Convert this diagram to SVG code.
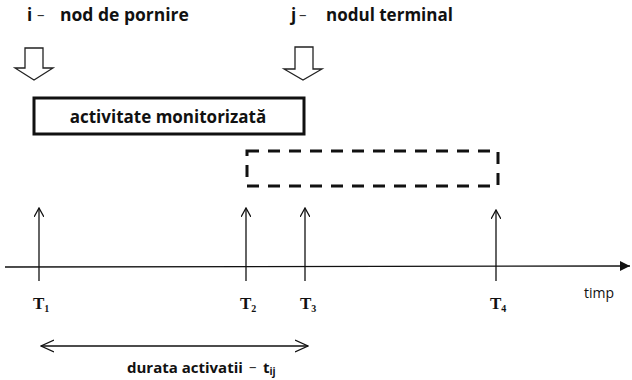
<svg xmlns="http://www.w3.org/2000/svg" width="632" height="380" viewBox="0 0 632 380">
<style>
.lbl{font-family:"Open Sans","Liberation Sans",sans-serif;font-weight:bold;font-size:17px;fill:#111}
.t{font-family:"Liberation Serif","Times New Roman",serif;font-weight:bold;font-size:17px;fill:#111}
.sub{font-size:10px}
.ln{stroke:#111;fill:none;stroke-width:1.3}
.hollow{fill:#fff;stroke:#222;stroke-width:1.3}
</style>
<defs>
<marker id="open" viewBox="0 0 10 10" refX="9" refY="5" markerWidth="10" markerHeight="10" markerUnits="userSpaceOnUse" orient="auto-start-reverse">
<path d="M0,0 L9,5 L0,10" fill="none" stroke="#111" stroke-width="1.3"/>
</marker>
<marker id="open2" viewBox="0 0 14 14" refX="13" refY="7" markerWidth="14" markerHeight="14" markerUnits="userSpaceOnUse" orient="auto-start-reverse">
<path d="M0,1 L13,7 L0,13" fill="none" stroke="#111" stroke-width="1.3"/>
</marker>
<marker id="solid" viewBox="0 0 10 10" refX="10" refY="5" markerWidth="10" markerHeight="12" markerUnits="userSpaceOnUse" orient="auto">
<path d="M0,0 L10,5 L0,10 Z" fill="#111"/>
</marker>
</defs>

<g id="node-i">
<text class="lbl" x="27" y="21">i</text>
<text x="37" y="20" style="font-family:'Open Sans',sans-serif;font-size:15px;fill:#333">–</text>
<text class="lbl" x="60" y="21" style="font-size:17.5px">nod de pornire</text>
<path class="hollow" d="M25,48 H43 V68 H53 L34,80 L15,68 H25 Z"/>
</g>
<g id="node-j">
<text class="lbl" x="291" y="21">j</text>
<text x="299" y="20" style="font-family:'Open Sans',sans-serif;font-size:15px;fill:#333">–</text>
<text class="lbl" x="326" y="21">nodul terminal</text>
<path class="hollow" d="M295,47 H313 V69 H322 L303,80 L284,69 H295 Z"/>
</g>
<g id="activitate">
<rect x="34" y="98" width="270" height="36" fill="none" stroke="#111" stroke-width="3"/>
<text class="lbl" x="168" y="123" text-anchor="middle">activitate monitorizată</text>
</g>
<g id="activitate-dashed">
<rect x="247" y="151" width="251" height="35" fill="none" stroke="#111" stroke-width="3" stroke-dasharray="12,9"/>
</g>

<g id="connectors">
<line class="ln" x1="5" y1="267" x2="630" y2="266" marker-end="url(#solid)"/>
<line class="ln" x1="39" y1="281" x2="39" y2="208" marker-end="url(#open)"/>
<line class="ln" x1="246" y1="281" x2="246" y2="208" marker-end="url(#open)"/>
<line class="ln" x1="305" y1="281" x2="305" y2="208" marker-end="url(#open)"/>
<line class="ln" x1="496" y1="281" x2="496" y2="210" marker-end="url(#open)"/>
<line class="ln" x1="41" y1="346" x2="308" y2="346" marker-start="url(#open2)" marker-end="url(#open2)"/>
</g>

<g id="labels">
<text class="t" x="33" y="309">T<tspan class="sub" dy="3">1</tspan></text>
<text class="t" x="240" y="309">T<tspan class="sub" dy="3">2</tspan></text>
<text class="t" x="300" y="309">T<tspan class="sub" dy="3">3</tspan></text>
<text class="t" x="490" y="309">T<tspan class="sub" dy="3">4</tspan></text>
<text x="584" y="298" style="font-family:'Open Sans','Liberation Sans',sans-serif;font-size:14px;fill:#111">timp</text>
<text class="lbl" x="127" y="373" style="font-size:15px">durata activatii</text>
<text x="249" y="372" style="font-family:'Open Sans',sans-serif;font-size:15px;fill:#333">–</text>
<text class="lbl" x="263" y="373" style="font-size:15px">t<tspan class="sub" dy="2">ij</tspan></text>
</g>
</svg>
